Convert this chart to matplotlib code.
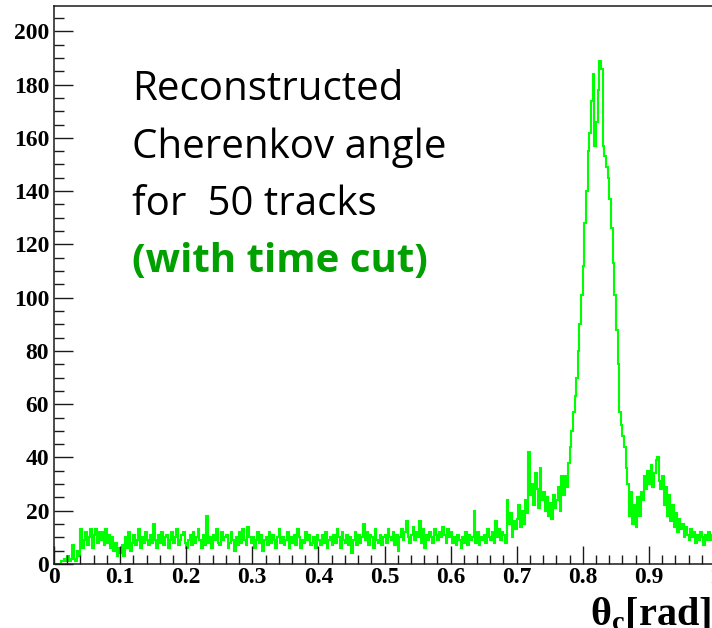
import numpy as np
import matplotlib
matplotlib.use("Agg")
import matplotlib.pyplot as plt
from matplotlib.ticker import MultipleLocator

# ── Histogram contents: theta_c in 0.0025 rad bins, counts per bin ────────────
BIN_WIDTH = 0.0025
counts_000_010 = [0, 0, 0, 0, 1, 1, 2, 1, 3, 1, 2, 7, 2, 1, 5, 3, 13, 6, 9, 12,
                  7, 10, 13, 6, 11, 13, 8, 12, 9, 12, 7, 13, 8, 11, 6, 10, 5, 8, 3, 6]
counts_010_020 = [4, 7, 3, 10, 6, 12, 5, 8, 11, 7, 9, 13, 6, 10, 8, 12, 9, 7, 11, 8,
                  15, 9, 6, 11, 8, 12, 7, 10, 11, 6, 9, 12, 8, 10, 13, 7, 9, 11, 12, 8]
counts_020_030 = [6, 9, 11, 7, 12, 8, 10, 13, 9, 6, 11, 7, 18, 8, 10, 6, 11, 9, 13, 8,
                  7, 12, 9, 10, 11, 6, 8, 12, 9, 5, 10, 7, 12, 8, 13, 9, 7, 14, 10, 8]
counts_030_040 = [10, 6, 9, 12, 8, 11, 5, 9, 10, 7, 12, 8, 11, 9, 6, 10, 13, 8, 10, 7,
                  9, 12, 6, 10, 8, 11, 7, 13, 10, 6, 9, 8, 12, 9, 11, 7, 8, 10, 6, 11]
counts_040_050 = [9, 7, 11, 8, 12, 6, 9, 10, 7, 11, 8, 13, 10, 6, 12, 9, 8, 11, 7, 10,
                  4, 9, 12, 7, 11, 8, 10, 15, 9, 12, 7, 11, 10, 6, 13, 9, 8, 11, 7, 10]
counts_050_060 = [11, 8, 13, 10, 9, 12, 7, 11, 5, 10, 13, 9, 12, 16, 10, 8, 11, 14, 9, 12,
                  10, 16, 8, 13, 6, 11, 9, 12, 10, 8, 13, 11, 9, 12, 10, 14, 11, 8, 13, 10]
counts_060_070 = [12, 8, 10, 7, 11, 9, 6, 10, 8, 12, 7, 11, 9, 10, 20, 8, 12, 7, 10, 9,
                  11, 8, 13, 10, 9, 12, 8, 16, 10, 13, 9, 12, 11, 8, 24, 15, 19, 10, 16, 13]
counts_070_080 = [17, 22, 14, 20, 15, 24, 19, 42, 26, 30, 22, 34, 28, 21, 36, 24, 27, 20, 25, 18,
                  23, 17, 26, 21, 24, 29, 20, 33, 26, 33, 29, 38, 44, 50, 57, 63, 70, 80, 90, 101]
counts_080_090 = [112, 128, 140, 155, 162, 174, 184, 157, 166, 178, 189, 186, 157, 153, 149, 145,
                  137, 126, 113, 101, 88, 75, 57, 52, 48, 44, 36, 30, 18, 27, 15, 22,
                  14, 25, 18, 27, 24, 33, 28, 35]
counts_090_100 = [30, 37, 29, 34, 39, 40, 31, 28, 33, 22, 29, 18, 26, 16, 22, 14, 19, 12, 17, 13,
                  15, 10, 14, 11, 9, 13, 10, 12, 8, 11, 9, 12, 10, 7, 11, 9, 12, 9, 11, 10]

X_TICKS = [0, 0.1, 0.2, 0.3, 0.4, 0.5, 0.6, 0.7, 0.8, 0.9, 1]
X_TICK_LABELS = ["0", "0.1", "0.2", "0.3", "0.4", "0.5", "0.6", "0.7", "0.8", "0.9", "1"]
Y_TICKS = [0, 20, 40, 60, 80, 100, 120, 140, 160, 180, 200]

LABEL_LINES = ["Reconstructed", "Cherenkov angle", "for  50 tracks"]
LABEL_CUT = "(with time cut)"

HIST_COLOR = "#00ff00"
CUT_COLOR = "#00a000"
AXIS_COLOR = "#1a1a1a"

counts = np.array(counts_000_010 + counts_010_020 + counts_020_030 + counts_030_040
                  + counts_040_050 + counts_050_060 + counts_060_070 + counts_070_080
                  + counts_080_090 + counts_090_100, dtype=float)
edges = np.arange(len(counts) + 1) * BIN_WIDTH

# ── Figure ────────────────────────────────────────────────────────────────────
W, H = 712, 628
fig = plt.figure(figsize=(W / 100, H / 100), dpi=100)
plt.rcParams["mathtext.fontset"] = "custom"
plt.rcParams["mathtext.rm"] = "Liberation Serif"
plt.rcParams["mathtext.bf"] = "Liberation Serif:bold"
plt.rcParams["mathtext.it"] = "Liberation Serif:italic"

# frame runs past the right edge of the canvas, as in the pad this came from
left, right, bottom, top = 54, 715, 564, 6
ax = fig.add_axes([left / W, (H - bottom) / H, (right - left) / W, (bottom - top) / H])

ax.stairs(counts, edges, color=HIST_COLOR, linewidth=1.5)

ax.set_xlim(0, 1)
ax.set_ylim(0, 209.5)

ax.set_xticks(X_TICKS)
ax.set_xticklabels(X_TICK_LABELS)
ax.set_yticks(Y_TICKS)
ax.xaxis.set_minor_locator(MultipleLocator(0.02))
ax.yaxis.set_minor_locator(MultipleLocator(5))

for lab in ax.get_xticklabels() + ax.get_yticklabels():
    lab.set_fontfamily("Liberation Serif")
    lab.set_fontweight("bold")
    lab.set_fontsize(17)

ax.tick_params(axis="x", which="major", direction="in", length=12.7, width=1.0,
               color=AXIS_COLOR, pad=2)
ax.tick_params(axis="x", which="minor", direction="in", length=6.5, width=1.0,
               color=AXIS_COLOR)
ax.tick_params(axis="y", which="major", direction="in", length=14, width=1.0,
               color=AXIS_COLOR, pad=3.5)
ax.tick_params(axis="y", which="minor", direction="in", length=7, width=1.0,
               color=AXIS_COLOR)

for side in ["left", "bottom", "top", "right"]:
    ax.spines[side].set_linewidth(1.1)
    ax.spines[side].set_color(AXIS_COLOR)

# axis title, right-aligned at the corner
fig.text(711 / W, 1 - 625 / H, r"$\mathbf{\theta_{c}[rad]}$", ha="right",
         va="baseline", fontsize=29, color="black")

# annotation block
baselines = [100, 158, 215]
for line, yb in zip(LABEL_LINES, baselines):
    fig.text(132 / W, 1 - yb / H, line, ha="left", va="baseline",
             fontsize=29, family="Open Sans", color="black")
fig.text(132 / W, 1 - 272 / H, LABEL_CUT, ha="left", va="baseline",
         fontsize=29, family="Open Sans", weight="bold", color=CUT_COLOR)

fig.savefig("out.png", dpi=100, facecolor="white")
